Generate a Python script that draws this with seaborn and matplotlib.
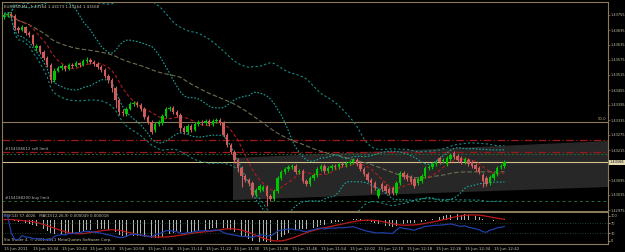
import numpy as np
import pandas as pd
import matplotlib
matplotlib.use("Agg")
import matplotlib.pyplot as plt
import matplotlib.transforms as mtransforms
from matplotlib.patches import Polygon
import seaborn as sns

sns.set_theme(style="dark")
plt.rcParams['font.family'] = ['DejaVu Sans']

# ---------------- data (EURUSD M1, 15 Jun 2011, 10:26 .. 12:45) ----------------
opens = [
    1.43747, 1.43755, 1.43759, 1.43751, 1.43703, 1.43695, 1.43707, 1.43683, 1.43675, 1.43623,
    1.43631, 1.43607, 1.43583, 1.43555, 1.43495, 1.43531, 1.43543, 1.43551, 1.43539, 1.43555,
    1.43551, 1.43563, 1.43555, 1.43571, 1.43575, 1.43567, 1.43559, 1.43547, 1.43535, 1.43511,
    1.43495, 1.43463, 1.43415, 1.43367, 1.43359, 1.43379, 1.43399, 1.43403, 1.43395, 1.43379,
    1.43347, 1.43327, 1.43295, 1.43319, 1.43323, 1.43351, 1.43379, 1.43383, 1.43367, 1.43355,
    1.43303, 1.43287, 1.43311, 1.43295, 1.43319, 1.43327, 1.43323, 1.43331, 1.43319, 1.43331,
    1.43335, 1.43323, 1.43275, 1.43235, 1.43207, 1.43175, 1.43143, 1.43111, 1.43095, 1.43083,
    1.43035, 1.43055, 1.43055, 1.43067, 1.43031, 1.43019, 1.43051, 1.43103, 1.43127, 1.43139,
    1.43147, 1.43151, 1.43127, 1.43131, 1.43091, 1.43079, 1.43103, 1.43115, 1.43139, 1.43151,
    1.43131, 1.43143, 1.43151, 1.43147, 1.43159, 1.43155, 1.43163, 1.43167, 1.43175, 1.43159,
    1.43139, 1.43119, 1.43095, 1.43083, 1.43031, 1.43079, 1.43071, 1.43059, 1.43063, 1.43043,
    1.43083, 1.43123, 1.43115, 1.43107, 1.43099, 1.43083, 1.43091, 1.43111, 1.43143, 1.43147,
    1.43159, 1.43183, 1.43171, 1.43159, 1.43179, 1.43203, 1.43191, 1.43183, 1.43167, 1.43175,
    1.43167, 1.43155, 1.43143, 1.43115, 1.43103, 1.43083, 1.43103, 1.43119, 1.43147, 1.43151,
]
highs = [
    1.43763, 1.43767, 1.43767, 1.43759, 1.43711, 1.43715, 1.43711, 1.43691, 1.43679, 1.43639,
    1.43635, 1.43615, 1.43591, 1.43563, 1.43543, 1.43551, 1.43559, 1.43555, 1.43563, 1.43563,
    1.43571, 1.43567, 1.43579, 1.43587, 1.43583, 1.43575, 1.43567, 1.43555, 1.43543, 1.43519,
    1.43503, 1.43471, 1.43423, 1.43379, 1.43387, 1.43407, 1.43411, 1.43411, 1.43403, 1.43387,
    1.43355, 1.43335, 1.43327, 1.43335, 1.43359, 1.43387, 1.43391, 1.43391, 1.43375, 1.43363,
    1.43311, 1.43319, 1.43319, 1.43327, 1.43335, 1.43335, 1.43339, 1.43339, 1.43339, 1.43343,
    1.43343, 1.43331, 1.43283, 1.43243, 1.43215, 1.43183, 1.43151, 1.43119, 1.43103, 1.43091,
    1.43063, 1.43079, 1.43075, 1.43075, 1.43039, 1.43059, 1.43111, 1.43135, 1.43147, 1.43155,
    1.43159, 1.43159, 1.43139, 1.43139, 1.43099, 1.43111, 1.43123, 1.43147, 1.43159, 1.43159,
    1.43151, 1.43159, 1.43159, 1.43167, 1.43167, 1.43171, 1.43175, 1.43183, 1.43183, 1.43167,
    1.43147, 1.43127, 1.43103, 1.43091, 1.43063, 1.43087, 1.43079, 1.43067, 1.43071, 1.43091,
    1.43131, 1.43131, 1.43123, 1.43115, 1.43107, 1.43107, 1.43119, 1.43151, 1.43155, 1.43167,
    1.43175, 1.43191, 1.43183, 1.43191, 1.43203, 1.43211, 1.43199, 1.43191, 1.43187, 1.43183,
    1.43175, 1.43163, 1.43151, 1.43123, 1.43111, 1.43115, 1.43127, 1.43151, 1.43159, 1.43175,
]
lows = [
    1.43739, 1.43747, 1.43743, 1.43695, 1.43683, 1.43691, 1.43675, 1.43667, 1.43631, 1.43611,
    1.43599, 1.43575, 1.43547, 1.43483, 1.43487, 1.43527, 1.43535, 1.43531, 1.43535, 1.43543,
    1.43547, 1.43547, 1.43551, 1.43563, 1.43559, 1.43551, 1.43539, 1.43527, 1.43503, 1.43483,
    1.43447, 1.43383, 1.43355, 1.43351, 1.43351, 1.43375, 1.43391, 1.43387, 1.43371, 1.43339,
    1.43319, 1.43279, 1.43287, 1.43311, 1.43315, 1.43343, 1.43371, 1.43359, 1.43347, 1.43287,
    1.43279, 1.43279, 1.43287, 1.43291, 1.43311, 1.43315, 1.43315, 1.43311, 1.43311, 1.43323,
    1.43315, 1.43267, 1.43227, 1.43199, 1.43163, 1.43127, 1.43067, 1.43087, 1.43075, 1.43027,
    1.43027, 1.43047, 1.43051, 1.42991, 1.43011, 1.43011, 1.43043, 1.43095, 1.43119, 1.43131,
    1.43139, 1.43119, 1.43119, 1.43083, 1.43071, 1.43071, 1.43095, 1.43107, 1.43131, 1.43123,
    1.43123, 1.43135, 1.43139, 1.43139, 1.43147, 1.43147, 1.43155, 1.43159, 1.43151, 1.43131,
    1.43111, 1.43087, 1.43043, 1.43055, 1.43023, 1.43051, 1.43043, 1.43035, 1.43035, 1.43035,
    1.43075, 1.43099, 1.43091, 1.43079, 1.43063, 1.43075, 1.43083, 1.43103, 1.43135, 1.43139,
    1.43151, 1.43159, 1.43163, 1.43151, 1.43171, 1.43179, 1.43167, 1.43159, 1.43159, 1.43151,
    1.43143, 1.43131, 1.43119, 1.43067, 1.43071, 1.43075, 1.43095, 1.43111, 1.43139, 1.43143,
]
closes = [
    1.43755, 1.43759, 1.43751, 1.43703, 1.43695, 1.43707, 1.43683, 1.43675, 1.43639, 1.43631,
    1.43607, 1.43583, 1.43555, 1.43495, 1.43531, 1.43543, 1.43551, 1.43539, 1.43555, 1.43551,
    1.43563, 1.43555, 1.43571, 1.43575, 1.43567, 1.43559, 1.43547, 1.43535, 1.43511, 1.43495,
    1.43463, 1.43415, 1.43367, 1.43363, 1.43379, 1.43399, 1.43403, 1.43395, 1.43379, 1.43347,
    1.43327, 1.43287, 1.43319, 1.43327, 1.43351, 1.43379, 1.43383, 1.43367, 1.43355, 1.43303,
    1.43287, 1.43311, 1.43295, 1.43319, 1.43327, 1.43323, 1.43331, 1.43319, 1.43331, 1.43335,
    1.43323, 1.43275, 1.43235, 1.43207, 1.43175, 1.43143, 1.43111, 1.43095, 1.43083, 1.43035,
    1.43055, 1.43071, 1.43067, 1.43031, 1.43019, 1.43051, 1.43103, 1.43127, 1.43139, 1.43147,
    1.43151, 1.43127, 1.43131, 1.43091, 1.43079, 1.43103, 1.43115, 1.43139, 1.43151, 1.43131,
    1.43143, 1.43151, 1.43147, 1.43159, 1.43155, 1.43163, 1.43167, 1.43175, 1.43159, 1.43139,
    1.43119, 1.43095, 1.43083, 1.43063, 1.43055, 1.43059, 1.43051, 1.43043, 1.43043, 1.43083,
    1.43123, 1.43107, 1.43099, 1.43087, 1.43071, 1.43099, 1.43111, 1.43143, 1.43147, 1.43159,
    1.43167, 1.43167, 1.43175, 1.43183, 1.43195, 1.43187, 1.43175, 1.43167, 1.43179, 1.43159,
    1.43151, 1.43139, 1.43127, 1.43091, 1.43079, 1.43107, 1.43119, 1.43143, 1.43151, 1.43167,
]

time_labels = ["15 Jun 2011", "15 Jun 10:34", "15 Jun 10:42", "15 Jun 10:50", "15 Jun 10:58",
               "15 Jun 11:06", "15 Jun 11:14", "15 Jun 11:22", "15 Jun 11:30", "15 Jun 11:38",
               "15 Jun 11:46", "15 Jun 11:54", "15 Jun 12:02", "15 Jun 12:10", "15 Jun 12:18",
               "15 Jun 12:26", "15 Jun 12:34", "15 Jun 12:42"]
time_label_bars = [0, 8, 16, 24, 32, 40, 48, 56, 64, 72, 80, 88, 96, 104, 112, 120, 128, 136]

price_ticks = [1.43755, 1.43695, 1.43635, 1.43575, 1.43515, 1.43455, 1.43395, 1.43335,
               1.43275, 1.43215, 1.43095, 1.43035, 1.42975]
current_price = 1.43166
fib_50 = 1.43327
red_level = 1.43255
sell_limit = 1.43207
sell_tp = 1.43201
buy_limit = 1.43011
channel_x = [63.6, 167.8, 167.8, 63.6]
channel_y = [1.43183, 1.43251, 1.43067, 1.43015]
title = "EURUSD,M1  1.43164 1.43173 1.43164 1.43168"
sub_title = "RSI(14) 57.4026   MACD(12,26,9) 0.000049 0.000018"
copyright_txt = "Sio Trader 4, \u00a9 2001-2011 MetaQuotes Software Corp."
rsi_ticks = [100, 70, 30, 0]

# ---------------- derived frame ----------------
df = pd.DataFrame({"bar": np.arange(len(closes)), "open": opens, "high": highs,
                   "low": lows, "close": closes})
c = df["close"]
df["ma_fast"] = c.rolling(8, min_periods=1).mean()
m20 = c.rolling(20, min_periods=1).mean()
s20 = c.rolling(20, min_periods=2).std().bfill()
df["bb_up"] = m20 + 2 * s20
df["bb_dn"] = m20 - 2 * s20
m40 = c.rolling(40, min_periods=1).mean()
s40 = c.rolling(40, min_periods=2).std().bfill()
df["bb2_up"] = m40 + 2.5 * s40
df["bb2_dn"] = m40 - 2.5 * s40
df["ma_slow"] = c.rolling(50, min_periods=1).mean()
ema12 = c.ewm(span=12, adjust=False).mean()
ema26 = c.ewm(span=26, adjust=False).mean()
df["macd"] = ema12 - ema26
df["signal"] = df["macd"].rolling(9, min_periods=1).mean()
delta = c.diff().fillna(0)
gain = delta.clip(lower=0).ewm(alpha=1 / 14, adjust=False).mean()
loss = (-delta.clip(upper=0)).ewm(alpha=1 / 14, adjust=False).mean()
df["rsi"] = 100 - 100 / (1 + gain / loss.replace(0, np.nan))
df["rsi"] = df["rsi"].fillna(100)

# ---------------- figure ----------------
W, H = 625, 252
BG = "#000000"
FRAME = "#8a7c5a"
TXT = "#c8c0a8"
FS = 2.5
fig = plt.figure(figsize=(W / 100, H / 100), dpi=100, facecolor=BG)
ax = fig.add_axes([2 / W, 1 - 211 / H, 606 / W, 209 / H])
sub = fig.add_axes([2 / W, 1 - 244 / H, 606 / W, 32 / H])

xmin = -0.56
xmax = xmin + 606 / 3.6
for a in (ax, sub):
    a.set_facecolor(BG)
    a.set_xlim(xmin, xmax)
    for s in a.spines.values():
        s.set_color(FRAME)
        s.set_linewidth(0.8)
    a.grid(False)
ax.set_ylim(1.42971, 1.43807)

# channel
ax.add_patch(Polygon(list(zip(channel_x, channel_y)), closed=True,
                     facecolor="#272727", edgecolor="none", zorder=0))

# horizontal levels
ax.axhline(fib_50, color="#8a7c5a", lw=0.8, zorder=1)
ax.axhline(red_level, color="#a01818", lw=0.9, ls=(0, (6, 2, 1, 2)), zorder=1)
ax.axhline(sell_limit, color="#a01818", lw=0.9, ls=(0, (6, 2, 1, 2)), zorder=1)
ax.axhline(sell_tp, color="#1e6b3a", lw=0.7, ls=(0, (2, 2)), zorder=1)
ax.axhline(current_price, color="#d2c08c", lw=0.8, zorder=1)
ax.axhline(buy_limit, color="#1e6b3a", lw=0.7, ls=(0, (3, 3)), zorder=1)

# indicator lines
sns.lineplot(data=df, x="bar", y="ma_slow", ax=ax, color="#6e6e52", lw=0.8,
             linestyle=(0, (4, 2)), zorder=2)
for col in ["bb_up", "bb_dn"]:
    sns.lineplot(data=df, x="bar", y=col, ax=ax, color="#1aa39a", lw=0.8,
                 linestyle=(0, (1.5, 1.5)), zorder=2)
for col in ["bb2_up", "bb2_dn"]:
    sns.lineplot(data=df, x="bar", y=col, ax=ax, color="#168a84", lw=0.8,
                 linestyle=(0, (2, 2)), zorder=2)
sns.lineplot(data=df, x="bar", y="ma_fast", ax=ax, color="#b01c1c", lw=0.8,
             linestyle=(0, (3, 2)), zorder=2)

# candles
up = df["close"] >= df["open"]
col = np.where(up, "#00c800", "#cd5c5c")
ax.vlines(df["bar"], df["low"], df["high"], colors=col, lw=0.8, zorder=3)
body_lo = np.minimum(df["open"], df["close"])
body_h = np.maximum(np.abs(df["close"] - df["open"]), 0.00002)
ax.bar(df["bar"], body_h, bottom=body_lo, width=0.7, color=col, linewidth=0, zorder=4)

# texts in main
ax.text(0.004, 0.985, title, transform=ax.transAxes, fontsize=2.9, color=TXT,
        va="top", ha="left")
blend = mtransforms.blended_transform_factory(ax.transAxes, ax.transData)
ax.text(0.005, sell_limit + 0.00003, "#154186612 sell limit", transform=blend,
        fontsize=2.8, color="#b8b8b8", va="bottom", ha="left")
ax.text(0.005, buy_limit + 0.00003, "#154188200 buy limit", transform=blend,
        fontsize=2.8, color="#b8b8b8", va="bottom", ha="left")
ax.text(0.997, fib_50 + 0.00003, "50.0", transform=blend, fontsize=2.8,
        color="#b8a880", va="bottom", ha="right")

# right price scale
ax.yaxis.tick_right()
ax.set_yticks(price_ticks)
ax.set_yticklabels([f"{p:.5f}" for p in price_ticks])
ax.tick_params(axis="y", colors=TXT, labelsize=FS, length=1.2, width=0.5, pad=0.6)
ax.tick_params(axis="y", color=FRAME)
ax.set_xticks([])
ax.set_xlabel("")
ax.set_ylabel("")
ax.text(1.002, current_price, f"{current_price:.5f}", transform=blend, fontsize=FS,
        color="#000000", va="center", ha="left",
        bbox=dict(boxstyle="square,pad=0.2", facecolor="#e6dcb4", edgecolor="none"))

# ---------------- sub window ----------------
sub.set_ylim(-12, 115)
for lv in (70, 30):
    sub.axhline(lv, color="#2a5a3a", lw=0.6, ls=(0, (1, 2)), zorder=1)
sub2 = sub.twinx()
sub2.set_xlim(xmin, xmax)
mmin = min(df["macd"].min(), df["signal"].min())
mmax = max(df["macd"].max(), df["signal"].max())
sub2.set_ylim(mmin * 1.08, mmax + (mmax - mmin) * 0.08)
sub2.bar(df["bar"], df["macd"], width=0.22, color="#b4b4b4", linewidth=0, zorder=1)
sns.lineplot(data=df, x="bar", y="signal", ax=sub2, color="#c01818", lw=0.9, zorder=3)
sub2.set_yticks([])
sub2.set_ylabel("")
sub2.axis("off")
sns.lineplot(data=df, x="bar", y="rsi", ax=sub, color="#1f3ea8", lw=0.9, zorder=4)
sub.set_zorder(sub2.get_zorder() + 1)
sub.patch.set_visible(False)
sub2.patch.set_facecolor(BG)
sub.yaxis.tick_right()
sub.set_yticks(rsi_ticks)
sub.set_yticklabels([str(v) for v in rsi_ticks])
sub.tick_params(axis="y", colors=TXT, labelsize=FS, length=1.2, width=0.5, pad=0.6)
sub.set_xticks(time_label_bars)
sub.set_xticklabels(time_labels, ha="left")
sub.tick_params(axis="x", colors=TXT, labelsize=2.9, length=1.5, width=0.5, pad=1)
sub.set_xlabel("")
sub.set_ylabel("")
sub.text(0.003, 0.93, sub_title, transform=sub.transAxes, fontsize=2.8, color=TXT,
         va="top", ha="left")
sub.text(0.003, 0.05, copyright_txt, transform=sub.transAxes, fontsize=2.8,
         color=TXT, va="bottom", ha="left")

fig.savefig("out.png", dpi=100, facecolor=BG)
